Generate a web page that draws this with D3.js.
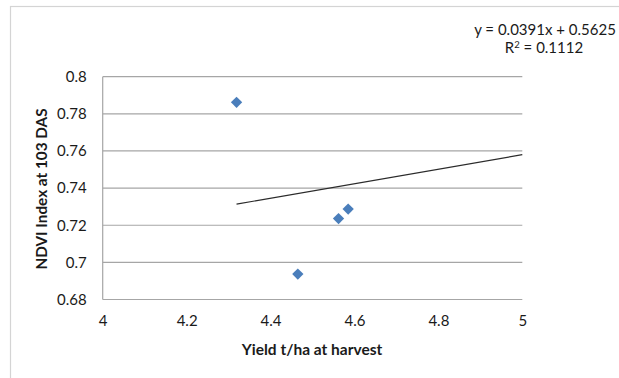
<!DOCTYPE html>
<html>
<head>
<meta charset="utf-8">
<script src="https://cdn.jsdelivr.net/npm/d3@7/dist/d3.min.js"></script>
<style>
  html, body { margin: 0; padding: 0; background: #fff; }
  svg { display: block; }
</style>
</head>
<body>
<svg id="chart" width="619" height="378"></svg>
<script>
// Yield vs NDVI observations
const yieldValues = [4.319, 4.465, 4.562, 4.585];
const ndviValues = [0.7862, 0.6937, 0.7236, 0.7287];

// Linear trendline coefficients and fit statistic
const trendSlope = 0.0391;
const trendIntercept = 0.5625;
const rSquared = 0.1112;

// Axis ticks
const xTicks = [4, 4.2, 4.4, 4.6, 4.8, 5];
const yTicks = [0.68, 0.7, 0.72, 0.74, 0.76, 0.78, 0.8];

const svg = d3.select("#chart");

// Outer chart frame
svg.append("rect")
  .attr("x", 10.5).attr("y", 6.5)
  .attr("width", 700).attr("height", 500)
  .attr("fill", "#fff")
  .attr("stroke", "#d4d4d4").attr("stroke-width", 1.2);

const x = d3.scaleLinear().domain([4, 5]).range([102.7, 522.3]);
const y = d3.scaleLinear().domain([0.68, 0.8]).range([299.5, 76.7]);

// Horizontal gridlines
svg.append("g")
  .selectAll("line")
  .data(yTicks)
  .join("line")
  .attr("x1", x(4)).attr("x2", x(5))
  .attr("y1", d => y(d)).attr("y2", d => y(d))
  .attr("stroke", "#a6a6a6").attr("stroke-width", 1.2);

// Vertical axis line
svg.append("line")
  .attr("x1", x(4)).attr("x2", x(4))
  .attr("y1", y(0.8)).attr("y2", y(0.68))
  .attr("stroke", "#a6a6a6").attr("stroke-width", 1.2);

// Y tick labels
const yAxis = d3.axisLeft(y).tickValues(yTicks).tickSize(0).tickPadding(16)
  .tickFormat(d => String(+d.toFixed(2)));
const gy = svg.append("g").attr("transform", `translate(${x(4)},0)`).call(yAxis);
gy.select(".domain").remove();
gy.selectAll("text")
  .style("font-family", "Lato, sans-serif")
  .style("font-size", "15px")
  .attr("fill", "#1a1a1a");

// X tick labels
const xAxis = d3.axisBottom(x).tickValues(xTicks).tickSize(0).tickPadding(16)
  .tickFormat(d => String(+d.toFixed(1)));
const gx = svg.append("g").attr("transform", `translate(0,${y(0.68)})`).call(xAxis);
gx.select(".domain").remove();
gx.selectAll("text")
  .style("font-family", "Lato, sans-serif")
  .style("font-size", "15px")
  .attr("fill", "#1a1a1a");

// Trendline over the data range
const xMin = d3.min(yieldValues);
const trendPts = [xMin, 5].map(v => [v, trendSlope * v + trendIntercept]);
svg.append("path")
  .datum(trendPts)
  .attr("d", d3.line().x(d => x(d[0])).y(d => y(d[1])))
  .attr("fill", "none")
  .attr("stroke", "#2b2b2b")
  .attr("stroke-width", 1.2);

// Diamond markers
const pts = yieldValues.map((v, i) => [v, ndviValues[i]]);
svg.append("g")
  .selectAll("path")
  .data(pts)
  .join("path")
  .attr("d", d3.symbol().type(d3.symbolSquare).size(64))
  .attr("transform", d => `translate(${x(d[0])},${y(d[1])}) rotate(45)`)
  .attr("fill", "#4a7ebb");

// Axis titles
svg.append("text")
  .attr("x", 312).attr("y", 355)
  .attr("text-anchor", "middle")
  .attr("font-family", "Lato, sans-serif")
  .attr("font-weight", "bold")
  .attr("font-size", 15.5)
  .attr("fill", "#1a1a1a")
  .text("Yield t/ha at harvest");

svg.append("text")
  .attr("transform", "translate(47,189) rotate(-90)")
  .attr("text-anchor", "middle")
  .attr("font-family", "Lato, sans-serif")
  .attr("font-weight", "bold")
  .attr("font-size", 15.3)
  .attr("fill", "#1a1a1a")
  .text("NDVI Index at 103 DAS");

// Trendline equation and R²
const eq = svg.append("g")
  .attr("font-family", "Lato, sans-serif")
  .attr("font-size", 15)
  .attr("fill", "#1a1a1a")
  .attr("text-anchor", "middle");
eq.append("text")
  .attr("x", 545).attr("y", 35)
  .text(`y = ${trendSlope}x + ${trendIntercept}`);
const r2 = eq.append("text").attr("x", 544).attr("y", 53);
r2.append("tspan").text("R");
r2.append("tspan").attr("baseline-shift", "super").attr("font-size", 9.5).text("2");
r2.append("tspan").text(` = ${rSquared}`);
</script>
</body>
</html>
